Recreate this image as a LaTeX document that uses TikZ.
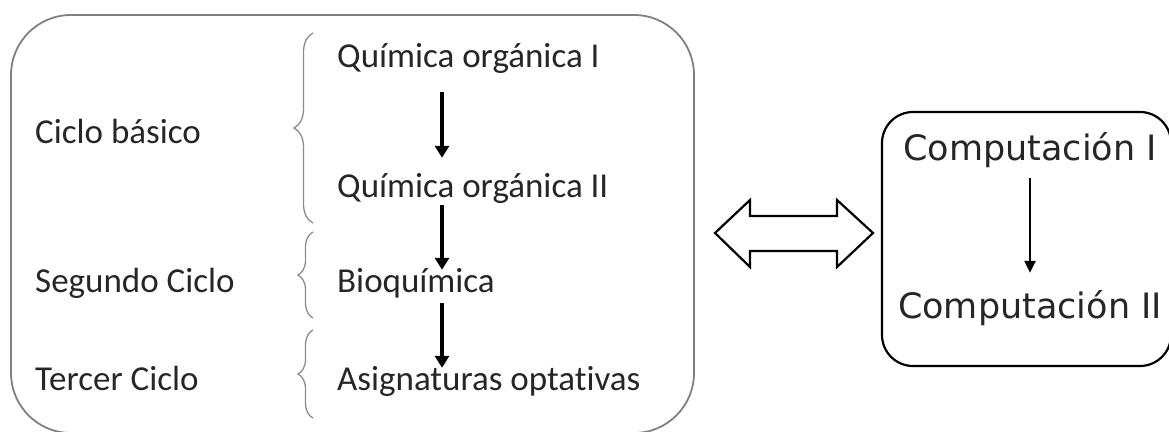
\documentclass[tikz,border=0pt]{standalone}
\usepackage{fontspec}
\setmainfont{Carlito}[Ligatures=NoCommon]
\newfontfamily\compfont{DejaVu Sans}
\usetikzlibrary{arrows.meta,decorations.pathreplacing}

\tikzset{
    cyclelabel/.style={anchor=base west,inner sep=0,text=black!85,font=\fontsize{35}{40}\selectfont},
    course/.style={anchor=base west,inner sep=0,text=black!85,text height=24pt,text depth=8pt,font=\fontsize{35}{40}\selectfont},
    comp/.style={anchor=base,inner sep=0,text=black!85,text height=25pt,text depth=8pt,font=\compfont\fontsize{35}{40}\selectfont},
    flow/.style={-{Triangle[length=12pt,width=14pt]},line width=3.3pt},
    bracket/.style={decorate,decoration={brace,amplitude=#1},draw=black!45,line width=1.3pt},
}

\begin{document}
\begin{tikzpicture}[x=1pt,y=-1pt]
    \useasboundingbox (0,0) rectangle (1169,431);

    % Left block
    \draw[black!50,line width=1.8pt,rounded corners=60pt] (11,15) rectangle (694,433);
    \node[cyclelabel] (basic)  at (35,143) {Ciclo básico};
    \node[cyclelabel] (second) at (35,292) {Segundo Ciclo};
    \node[cyclelabel] (third)  at (35,390) {Tercer Ciclo};

    \draw[bracket=19pt] (313,223) -- (313,33);
    \draw[bracket=15pt] (313,318) -- (313,232);
    \draw[bracket=15pt] (313,418) -- (313,330);

    \node[course] (qo1)  at (337,67)  {Química orgánica I};
    \node[course] (qo2)  at (337,197) {Química orgánica II};
    \node[course] (bio)  at (337,292) {Bioquímica};
    \node[course] (opt)  at (337,390) {Asignaturas optativas};

    \coordinate (arrowx) at (442,0);
    \draw[flow,shorten <=17pt,shorten >=15pt] (qo1.south -| arrowx) -- (qo2.north -| arrowx);
    \draw[flow,shorten >=-2pt] (qo2.south -| arrowx) -- (bio.north -| arrowx);
    \draw[flow,shorten <=3pt,shorten >=-2pt] (bio.south -| arrowx) -- (opt.north -| arrowx);

    % Link between blocks
    \draw[line width=2.2pt] (715,233) -- (750,200) -- (750,216) -- (837,216) -- (837,200)
        -- (873,233) -- (837,267) -- (837,251) -- (750,251) -- (750,267) -- cycle;

    % Right block
    \draw[line width=2.2pt,rounded corners=31pt] (882,112) rectangle (1171,366);
    \node[comp] (comp1) at (1030,160) {Computación I};
    \node[comp] (comp2) at (1030,318) {Computación II};
    \draw[-{Triangle[length=12pt,width=11pt]},line width=2.3pt,shorten <=10pt,shorten >=20pt]
        (comp1.south) -- (comp2.north);
\end{tikzpicture}
\end{document}
